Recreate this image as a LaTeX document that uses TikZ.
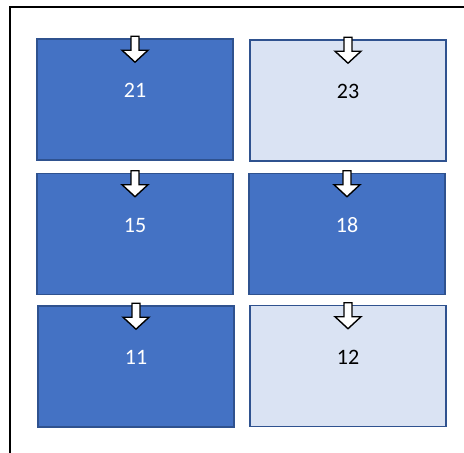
\documentclass[tikz,border=0pt]{standalone}
\usepackage{fontspec}
\setmainfont{Carlito}
\usetikzlibrary{positioning}
\definecolor{boxdark}{HTML}{4472C4}
\definecolor{boxlight}{HTML}{DAE3F3}
\definecolor{boxline}{HTML}{2F528F}
\tikzset{
    darkbox/.style={draw=boxline, fill=boxdark, line width=1.6pt, minimum width=196pt, minimum height=121pt, inner sep=0pt},
    lightbox/.style={draw=boxline, fill=boxlight, line width=1.6pt, minimum width=196pt, minimum height=121pt, inner sep=0pt},
    darknum/.style={text=white, font=\fontsize{22}{24}\selectfont},
    lightnum/.style={text=black, font=\fontsize{22}{24}\selectfont},
    blockarr/.style={draw=black, fill=white, line width=1.4pt, line join=miter},
}
\newcommand{\droparrow}[1]{%
  \draw[blockarr] ([yshift=2pt]#1.north) ++(-4,0) -- ++(8,0) -- ++(0,14) -- ++(9,0) -- ++(-13,12) -- ++(-13,-12) -- ++(9,0) -- cycle;}
\begin{document}
\begin{tikzpicture}[x=1pt, y=-1pt]
\useasboundingbox (0,0) rectangle (464,453);
% frame
\draw[line width=1.8pt] (10,453) |- (464,7);
% boxes
\node[darkbox] (b21) at (135,99.5) {};
\node[lightbox] (b23) at (348,100.5) {};
\node[darkbox] (b15) at (135,234) {};
\node[darkbox] (b18) at (347,234) {};
\node[darkbox] (b11) at (136,366.5) {};
\node[lightbox] (b12) at (348,366) {};
% numbers
\node[darknum] (t21) at ([yshift=9pt]b21.center) {21};
\node[lightnum] (t23) at ([yshift=9pt]b23.center) {23};
\node[darknum] (t15) at ([yshift=9pt]b15.center) {15};
\node[darknum] (t18) at ([yshift=9pt]b18.center) {18};
\node[darknum] (t11) at ([yshift=9pt]b11.center) {11};
\node[lightnum] (t12) at ([yshift=9pt]b12.center) {12};
% arrows
\foreach \b in {b21,b23,b15,b18,b11,b12}{\droparrow{\b}}
\end{tikzpicture}
\end{document}
